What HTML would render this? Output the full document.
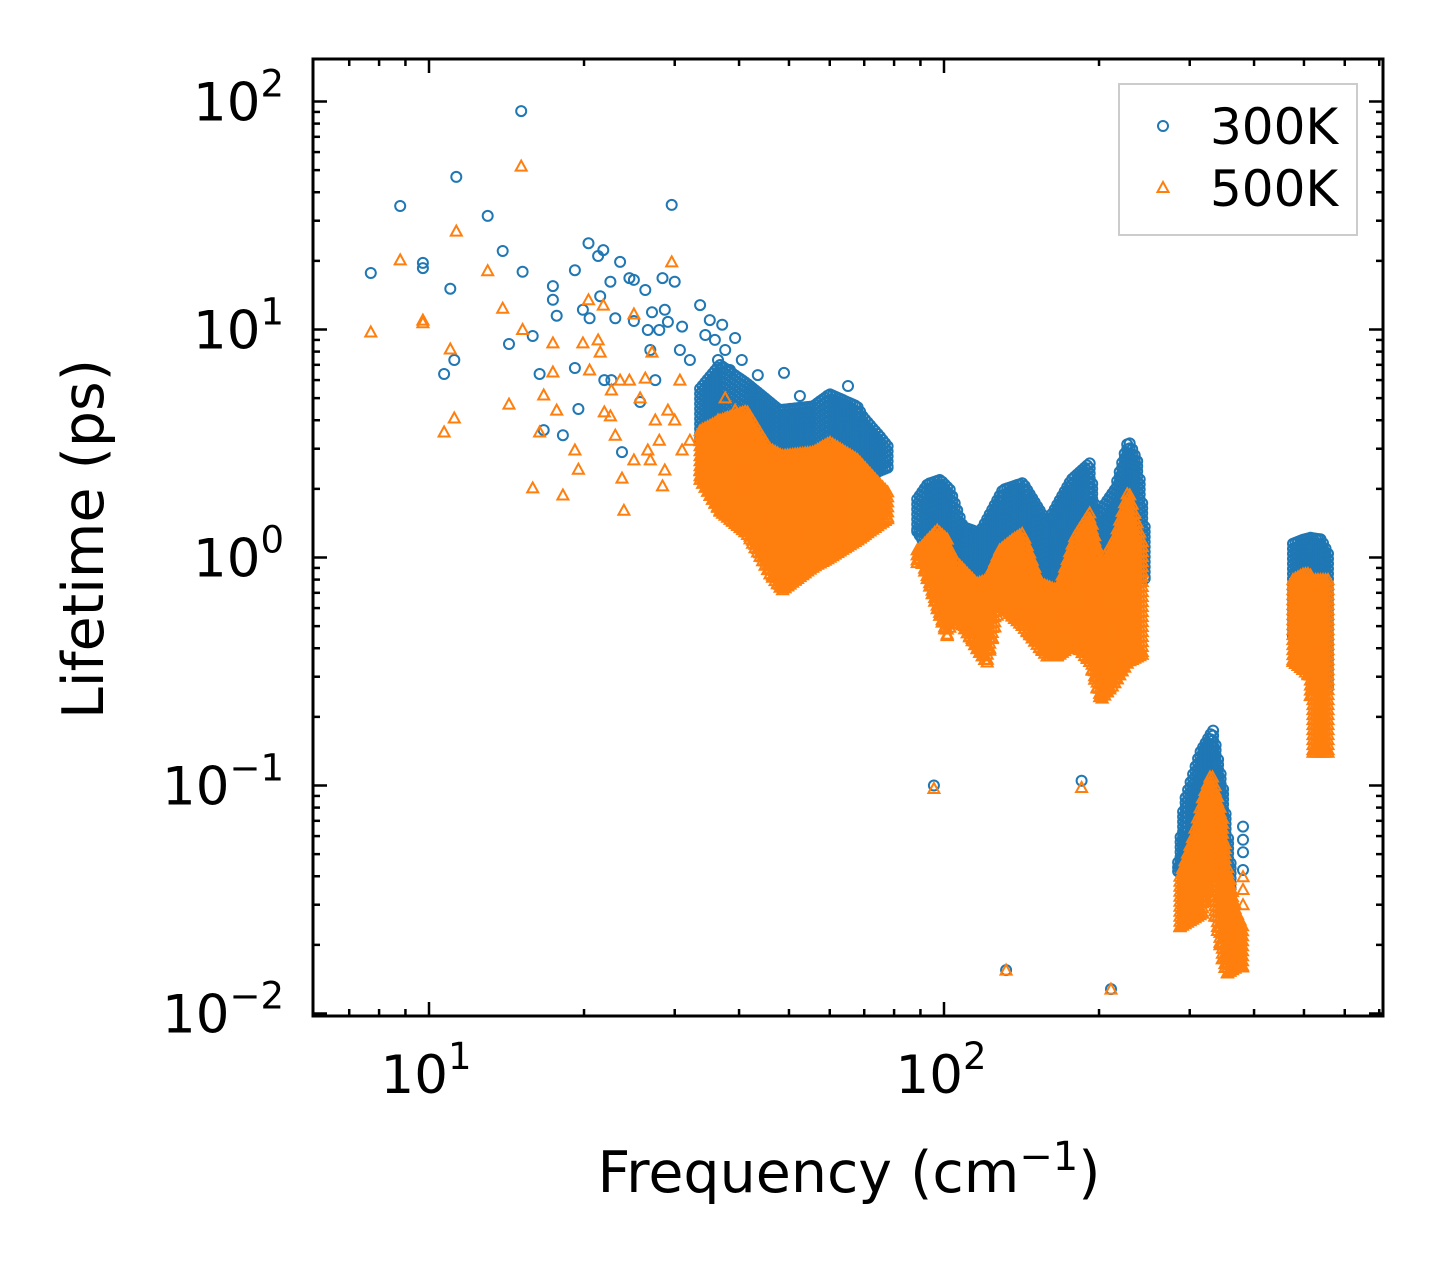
<!DOCTYPE html>
<html><head><meta charset="utf-8"><style>
html,body{margin:0;padding:0;background:#fff;}
svg{display:block;font-family:"DejaVu Sans","Liberation Sans",sans-serif;}
</style></head><body>
<svg id="chart" width="1442" height="1265" viewBox="0 0 1442 1265" xmlns="http://www.w3.org/2000/svg">
<rect width="1442" height="1265" fill="#fff"/>
<defs><clipPath id="plotclip"><rect x="313" y="59" width="1070" height="957"/></clipPath></defs>
<g id="marks" clip-path="url(#plotclip)"></g>
<g id="axes"></g>
<text x="849" y="1192" text-anchor="middle" font-size="57">Frequency (cm<tspan dy="-22" font-size="40">−1</tspan><tspan dy="22">)</tspan></text>
<text transform="translate(103,539) rotate(-90)" text-anchor="middle" font-size="57">Lifetime (ps)</text>
<g>
<rect x="1119" y="84" width="238" height="151" fill="#fff" stroke="#cccccc" stroke-width="2"/>
<circle cx="1163" cy="126" r="5" fill="none" stroke="#1f77b4" stroke-width="2"/>
<text x="1210" y="144" font-size="50">300K</text>
<path d="M1163,182 L1168.5,192 L1157.5,192 Z" fill="none" stroke="#ff7f0e" stroke-width="2"/>
<text x="1210" y="206" font-size="50">500K</text>
</g>
</svg>
<script>
// ---- sparse points ----
const freq300 = [7.71,8.79,9.73,9.73,10.7,11.0,11.2,11.3,13.0,13.9,14.3,15.1,15.2,15.9,16.4,16.7,17.4,17.4,17.7,18.2,19.2,19.2,19.5,19.9,20.4,20.5,21.3,21.5,21.8,21.9,22.5,22.6,23.0,23.5,23.7,24.5,25.0,25.0,25.7,26.3,26.6,26.9,27.1,27.5,28.0,28.4,28.7,29.1,29.6,30.0,30.7,31.0,32.1,33.6,34.4,35.1,35.9,36.4,37.1,37.6,38.4,39.3,40.5,42.4,43.5,48.9,52.5,65.1,95.6,132,185,211,380.7,380.7,380.7,380.7];
const life300 = [17.7,34.8,19.6,18.6,6.38,15.1,7.35,46.7,31.5,22.1,8.64,90.8,17.9,9.36,6.38,3.62,15.5,13.5,11.5,3.44,18.2,6.78,4.48,12.2,23.9,11.2,21.0,14.0,22.3,6.0,16.2,6.0,11.2,19.8,2.90,16.8,16.5,10.9,4.81,14.9,9.95,8.13,11.9,6.0,9.95,16.8,12.2,10.8,35.2,16.2,8.13,10.3,7.35,12.8,9.46,11.0,9.0,7.35,10.5,8.13,6.64,9.18,7.35,5.43,6.31,6.45,5.11,5.65,0.100,0.0155,0.105,0.0128,0.066,0.0578,0.051,0.0426];
const freq500 = [7.71,8.79,9.73,9.73,10.7,11.0,11.2,11.3,13.0,13.9,14.3,15.1,15.2,15.9,16.4,16.7,17.4,17.4,17.7,18.2,19.2,19.5,19.9,20.4,20.5,21.3,21.5,21.8,21.9,22.5,22.6,23.0,23.5,23.7,23.9,24.5,25.0,25.0,25.7,26.3,26.6,26.9,27.1,27.5,28.0,28.4,28.7,29.1,29.6,30.0,30.7,31.0,32.1,33.6,34.4,35.1,35.9,36.4,37.1,37.6,38.4,39.3,95.6,132,185,211,380.7,380.7,380.7];
const life500 = [9.75,20.2,10.7,11.0,3.55,8.21,4.09,27.0,18.1,12.4,4.71,52.1,10.0,2.02,3.55,5.16,8.73,6.51,4.43,1.88,2.96,2.44,8.73,13.5,6.64,9.0,7.96,12.8,4.35,4.18,5.43,3.44,6.0,2.23,1.61,6.0,11.7,2.68,5.01,6.12,2.96,2.68,7.96,4.01,3.27,2.06,2.42,4.43,19.8,4.01,6.0,2.96,3.27,2.42,3.27,2.19,2.82,4.01,1.98,5.01,2.96,4.43,0.097,0.0155,0.098,0.0128,0.0398,0.035,0.030];
// ---- dense band envelopes: [freq, low lifetime, high lifetime] ----
const band300a = [[33.6,3.2,5.5],[36.7,2.2,7.0],[41.4,2.0,5.8],[47.9,1.8,4.43],[55.7,1.8,4.6],[60.0,2.0,5.2],[67.8,2.0,4.6],[69.6,2.2,4.13],[75.0,2.4,3.4],[78.4,2.5,3.0]];
const band300b = [[88.7,1.3,1.8],[93,1.1,2.1],[98.3,1.0,2.19],[102.7,0.9,1.98],[108.9,0.75,1.36],[117.3,0.7,1.28],[130.1,0.85,1.98],[142.3,0.9,2.12],[158.6,0.7,1.42],[176.6,0.9,2.19],[191.8,1.0,2.59],[197.5,0.7,1.51],[214.6,0.8,1.98],[228,1.0,3.27],[238,0.9,2.6],[246,0.8,1.28]];
const band300c = [[284.8,0.042,0.046],[292.4,0.04,0.084],[314,0.04,0.139],[332.9,0.05,0.175],[348,0.04,0.098],[364,0.03,0.036]];
const band300d = [[476,0.45,1.15],[500,0.4,1.2],[515,0.35,1.22],[540,0.3,1.2],[561,0.26,1.0]];
const band500a = [[33.6,2.2,3.6],[36.7,1.6,4.0],[41.4,1.28,4.4],[45.9,0.85,3.0],[48.5,0.72,2.8],[55.7,0.91,2.9],[60,1.0,3.2],[67.8,1.19,2.7],[75,1.4,2.1],[78.4,1.5,1.9]];
const band500b = [[88.7,0.95,1.08],[89.9,1.0,1.1],[96.9,0.6,1.32],[101.6,0.45,1.2],[102.7,0.5,1.08],[106,0.55,0.95],[115.8,0.4,0.77],[121.2,0.345,0.8],[128.3,0.63,1.08],[136,0.55,1.2],[142.3,0.5,1.28],[153.7,0.4,0.77],[158.6,0.37,0.75],[166,0.37,0.72],[179.2,0.42,1.23],[191.8,0.35,1.57],[201.4,0.237,0.95],[214,0.28,1.2],[228,0.35,1.98],[245,0.38,1.08]];
const band500c = [[287.3,0.024,0.04],[304.5,0.026,0.06],[318.4,0.0276,0.09],[328.5,0.041,0.109],[332.9,0.03,0.109],[348,0.017,0.0707],[354.3,0.015,0.045],[370.6,0.016,0.0276],[380.7,0.016,0.024]];
const band500d = [[476,0.35,0.8],[500,0.32,0.85],[513,0.3,0.85],[520,0.14,0.8],[561,0.14,0.8]];
const xTickValues = [10,100];
const xTickLabels = ["1","2"];
const yTickValues = [0.01,0.1,1,10,100];
const yTickLabels = ["−2","−1","0","1","2"];

const NS = "http://www.w3.org/2000/svg";
const X0 = 429, XD = 515, Y0 = 557.5, YD = 228;
function xs(f){ return X0 + XD*(Math.log10(f)-1); }
function ys(v){ return Y0 - YD*Math.log10(v); }
const marks = document.getElementById('marks');
const axes = document.getElementById('axes');

function circle(x,y){
  const c = document.createElementNS(NS,'circle');
  c.setAttribute('cx',x.toFixed(1)); c.setAttribute('cy',y.toFixed(1)); c.setAttribute('r','5');
  c.setAttribute('fill','none'); c.setAttribute('stroke','#1f77b4'); c.setAttribute('stroke-width','2');
  
  
  marks.appendChild(c);
}
function tri(x,y){
  const p = document.createElementNS(NS,'path');
  p.setAttribute('d',`M${x.toFixed(1)},${(y-5.5).toFixed(1)} L${(x+5.5).toFixed(1)},${(y+4.5).toFixed(1)} L${(x-5.5).toFixed(1)},${(y+4.5).toFixed(1)} Z`);
  p.setAttribute('fill','none'); p.setAttribute('stroke','#ff7f0e'); p.setAttribute('stroke-width','2');
  
  
  marks.appendChild(p);
}
function fillBand(band, draw){
  const xa = xs(band[0][0]), xb = xs(band[band.length-1][0]);
  let k = 0;
  for(let x = xa; x <= xb; x += 2.5){
    while(k < band.length-2 && xs(band[k+1][0]) < x) k++;
    const p = band[k], q = band[k+1];
    const t = (x - xs(p[0]))/((xs(q[0])-xs(p[0]))||1);
    const lo = ys(p[1]) + (ys(q[1])-ys(p[1]))*t;
    const hi = ys(p[2]) + (ys(q[2])-ys(p[2]))*t;
    for(let y = hi; y <= lo + 0.1; y += 5) draw(x, y);
    draw(x, lo);
  }
}
freq300.forEach((f,i)=>circle(xs(f), ys(life300[i])));
[band300a,band300b,band300c,band300d].forEach(b=>fillBand(b,circle));
freq500.forEach((f,i)=>tri(xs(f), ys(life500[i])));
[band500a,band500b,band500c,band500d].forEach(b=>fillBand(b,tri));

const L=313,R=1383,T=59,B=1016;
function line(x1,y1,x2,y2,w,name){
  const l=document.createElementNS(NS,'line');
  l.setAttribute('x1',x1);l.setAttribute('y1',y1);l.setAttribute('x2',x2);l.setAttribute('y2',y2);
  l.setAttribute('stroke','#000');l.setAttribute('stroke-width',w);
  
  
  axes.appendChild(l);
}
for(let d=0; d<3; d++){
  for(let m=1; m<10; m++){
    const f = m*Math.pow(10,d);
    const x = xs(f);
    if(x<L+2||x>R-2) continue;
    const len = m===1?14:7;
    line(x,B,x,B-len,2.5,'x-tick');
    line(x,T,x,T+len,2.5,'x-tick-top');
  }
}
for(let d=-2; d<3; d++){
  for(let m=1; m<10; m++){
    const v = m*Math.pow(10,d);
    const y = ys(v);
    if(y<T+2||y>B+2) continue;
    const len = m===1?14:7;
    line(L,y,L+len,y,2.5,'y-tick');
    line(R,y,R-len,y,2.5,'y-tick-right');
  }
}
const frame=document.createElementNS(NS,'rect');
frame.setAttribute('x',L);frame.setAttribute('y',T);frame.setAttribute('width',R-L);frame.setAttribute('height',B-T);
frame.setAttribute('fill','none');frame.setAttribute('stroke','#000');frame.setAttribute('stroke-width','3');


axes.appendChild(frame);
xTickValues.forEach((v,i)=>{
  const t=document.createElementNS(NS,'text');
  t.setAttribute('x',xs(v)-3);t.setAttribute('y',1093);t.setAttribute('font-size','53');t.setAttribute('text-anchor','middle');
  t.innerHTML=`10<tspan dy="-24" font-size="37">${xTickLabels[i]}</tspan>`;
  
  
  axes.appendChild(t);
});
yTickValues.forEach((v,i)=>{
  const t=document.createElementNS(NS,'text');
  t.setAttribute('x',284);t.setAttribute('y',ys(v)+19);t.setAttribute('font-size','53');t.setAttribute('text-anchor','end');
  t.innerHTML=`10<tspan dy="-24" font-size="37">${yTickLabels[i]}</tspan>`;
  
  
  axes.appendChild(t);
});
</script>
</body></html>
